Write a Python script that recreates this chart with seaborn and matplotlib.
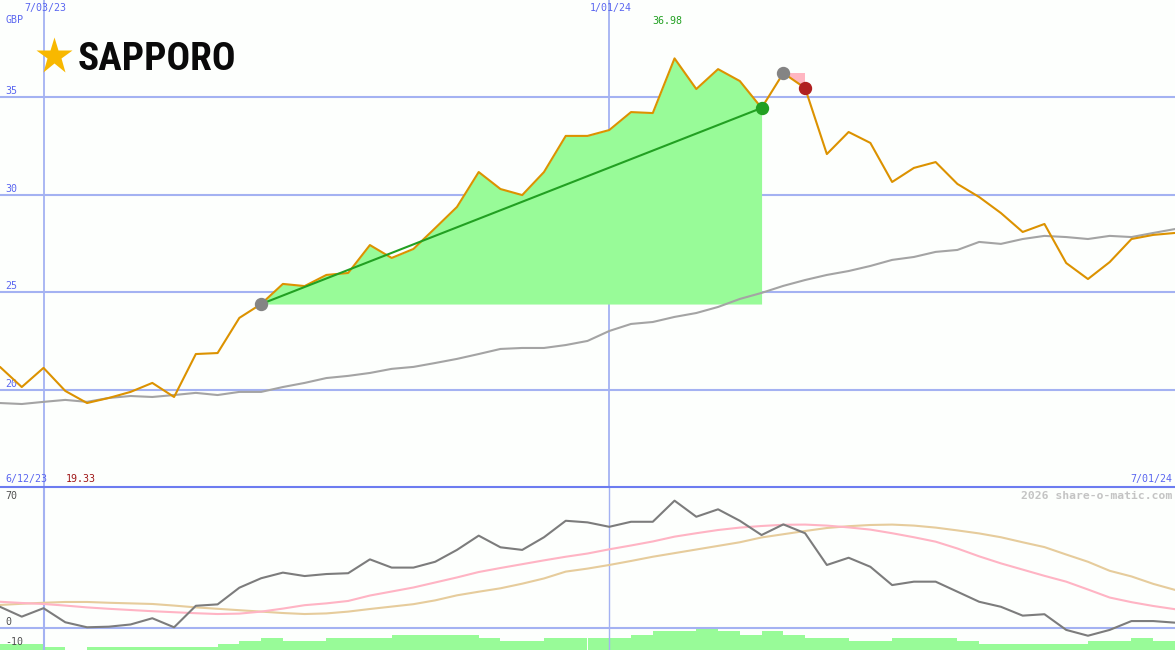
import matplotlib
matplotlib.use('Agg')
import matplotlib.pyplot as plt
from matplotlib import font_manager as fm
from matplotlib.lines import Line2D
import numpy as np
import pandas as pd
import seaborn as sns

# weekly closes, GBP
price = [21.18, 20.15, 21.13, 19.95, 19.33, 19.59, 19.90, 20.36, 19.64, 21.84,
         21.89, 23.69, 24.40, 25.43, 25.32, 25.89, 25.99, 27.42, 26.76, 27.22,
         28.29, 29.37, 31.16, 30.29, 29.98, 31.16, 33.01, 33.01, 33.31, 34.23,
         34.18, 36.98, 35.41, 36.43, 35.82, 34.44, 36.23, 35.46, 32.08, 33.21,
         32.65, 30.65, 31.37, 31.67, 30.55, 29.88, 29.06, 28.09, 28.50, 26.50,
         25.68, 26.55, 27.73, 27.94, 28.04]
avg_line = [19.33, 19.28, 19.39, 19.49, 19.39, 19.59, 19.69, 19.64, 19.74, 19.85,
            19.74, 19.90, 19.90, 20.15, 20.36, 20.61, 20.72, 20.87, 21.08, 21.18,
            21.38, 21.59, 21.84, 22.10, 22.15, 22.15, 22.30, 22.51, 23.02, 23.38,
            23.48, 23.74, 23.94, 24.25, 24.66, 24.97, 25.33, 25.63, 25.89, 26.09,
            26.35, 26.66, 26.81, 27.07, 27.17, 27.58, 27.48, 27.73, 27.89, 27.83,
            27.73, 27.89, 27.83, 28.04, 28.24]
osc = [10.4, 5.5, 9.7, 2.7, 0.2, 0.5, 1.6, 4.7, 0.2, 10.9,
       11.6, 19.9, 24.6, 27.4, 25.7, 26.7, 27.1, 34.0, 29.9, 29.9,
       32.8, 38.7, 45.8, 40.0, 38.7, 45.0, 53.2, 52.4, 50.2, 52.7,
       52.7, 63.2, 55.2, 58.9, 53.2, 46.1, 51.4, 47.0, 31.2, 34.8,
       30.3, 21.2, 22.9, 22.9, 17.9, 12.9, 10.4, 6.0, 6.7, -1.1,
       -4.0, -1.1, 3.3, 3.3, 2.5]
osc_fast = [12.9, 12.3, 11.8, 11.0, 10.1, 9.4, 8.8, 8.2, 7.7, 7.2,
            6.8, 7.0, 8.0, 9.5, 11.2, 12.1, 13.3, 16.0, 18.0, 20.0,
            22.5, 25.0, 27.7, 29.7, 31.6, 33.5, 35.3, 36.9, 39.0, 40.9,
            42.9, 45.3, 47.0, 48.6, 49.8, 50.6, 51.2, 51.3, 50.8, 49.9,
            48.8, 47.0, 45.0, 42.8, 39.4, 35.5, 32.0, 28.9, 25.8, 22.9,
            19.0, 15.0, 12.7, 10.8, 9.2]
osc_slow = [11.3, 11.9, 12.4, 12.8, 12.8, 12.4, 12.1, 11.8, 11.0, 10.1,
            9.4, 8.7, 8.0, 7.3, 6.8, 7.1, 8.0, 9.3, 10.5, 11.7,
            13.6, 16.1, 17.9, 19.6, 21.9, 24.5, 27.9, 29.4, 31.2, 33.2,
            35.3, 37.1, 38.9, 40.7, 42.5, 44.9, 46.5, 48.1, 49.6, 50.5,
            51.1, 51.3, 50.8, 49.8, 48.4, 46.9, 45.0, 42.5, 40.1, 36.4,
            32.8, 28.3, 25.5, 21.8, 18.8]
volume = [6, 6, 3.3, 0, 3.3, 3.3, 3.3, 3.3, 3.3, 3.3,
          6, 9, 12.3, 9, 9, 12.3, 12.3, 12.3, 15, 15,
          15, 15, 12.3, 9, 9, 12.3, 12.3, 12.3, 12.3, 15,
          19, 19, 22, 19, 15, 19, 15, 12.3, 12.3, 9,
          9, 12.3, 12.3, 12.3, 9, 6, 6, 6, 6, 6,
          9, 9, 12.3, 9, 9]

dates = pd.date_range('2023-06-19', periods=len(price), freq='7D')
grid_dates = ['2023-07-03', '2024-01-01']
grid_labels = ['7/03/23', '1/01/24']
price_levels = [20, 25, 30, 35]

trend_start, trend_end = 12, 35      # green run
top_idx, drop_idx = 36, 37           # top + first drop

BG = '#fdfffd'
GRID = '#a4b2f2'
BLUE_TXT = '#5a66f0'

sns.set_style('white', {'axes.facecolor': BG, 'figure.facecolor': BG})
plt.rcParams['font.family'] = ['DejaVu Sans Mono', 'DejaVu Sans']

# narrow heavy face for the logo if there is one
installed = {f.name for f in fm.fontManager.ttflist}
if 'Roboto Condensed' in installed:
    logo_font, logo_size = ['Roboto Condensed'], 28.3
elif 'Liberation Sans Narrow' in installed:
    logo_font, logo_size = ['Liberation Sans Narrow'], 27
else:
    logo_font, logo_size = ['Roboto', 'DejaVu Sans'], 25

df = pd.DataFrame({'date': dates, 'price': price, 'avg': avg_line,
                   'osc': osc, 'fast': osc_fast, 'slow': osc_slow,
                   'vol': volume})

fig = plt.figure(figsize=(11.75, 6.5), dpi=100)
ax = fig.add_axes([0, 163/650, 1, 487/650])
axb = fig.add_axes([0, 0, 1, 163/650])
axv = axb.twinx()

# ---- price panel
for lv in price_levels:
    ax.axhline(lv, color=GRID, lw=1.5, zorder=1)
    ax.annotate(str(lv), xy=(0, lv), xycoords=('axes fraction', 'data'),
                xytext=(5, 1), textcoords='offset pixels', va='bottom',
                ha='left', color=BLUE_TXT, fontsize=7.2)
for d, lab in zip(grid_dates, grid_labels):
    ax.axvline(pd.Timestamp(d), color=GRID, lw=1.3, zorder=1)
    ax.annotate(lab, xy=(pd.Timestamp(d), 1), xycoords=('data', 'axes fraction'),
                xytext=(2, -8), textcoords='offset pixels', va='center',
                ha='center', color=BLUE_TXT, fontsize=7.2)

seg = df.iloc[trend_start:trend_end + 1]
ax.fill_between(seg['date'], seg['price'], price[trend_start],
                color='#98fb98', lw=0, zorder=2)
sns.lineplot(data=df, x='date', y='avg', ax=ax, color='#a4a4a4', lw=1.5, zorder=3)
ax.fill([dates[top_idx], dates[drop_idx], dates[drop_idx]],
        [price[top_idx], price[top_idx], price[drop_idx]],
        color='#ffb6c1', lw=0, zorder=3.5)
sns.lineplot(data=df, x='date', y='price', ax=ax, color='#dc9200', lw=1.5, zorder=4)
ax.plot([dates[trend_start], dates[trend_end]],
        [price[trend_start], price[trend_end]], color='#22a022', lw=1.5, zorder=5)
ax.plot([dates[trend_start], dates[top_idx]], [price[trend_start], price[top_idx]],
        ls='none', marker='o', ms=8.6, color='#848484', zorder=6)
ax.plot(dates[trend_end], price[trend_end], marker='o', ms=8.6, color='#22a022', zorder=6)
ax.plot(dates[drop_idx], price[drop_idx], marker='o', ms=8.6, color='#b02020', zorder=6)

imax = int(np.argmax(price))
imin = int(np.argmin(price))
ax.annotate('%.2f' % price[imax], xy=(dates[imax], 1), xycoords=('data', 'axes fraction'),
            xytext=(-7, -21), textcoords='offset pixels', ha='center', va='center',
            color='#22a022', fontsize=7.2)
ax.text(5/1175, 1 - 20/487, 'GBP', transform=ax.transAxes, ha='left', va='center',
        color=BLUE_TXT, fontsize=7.2)
ax.text(5/1175, 8/487, '6/12/23', transform=ax.transAxes, ha='left', va='center',
        color=BLUE_TXT, fontsize=7.2)
ax.text(66/1175, 8/487, '%.2f' % price[imin], transform=ax.transAxes, ha='left',
        va='center', color='#a01818', fontsize=7.2)
ax.text(1172/1175, 8/487, '7/01/24', transform=ax.transAxes, ha='right',
        va='center', color=BLUE_TXT, fontsize=7.2)

# logo
ax.plot([53.5/1175], [1 - 55.5/487], transform=ax.transAxes, marker='*',
        ms=28, color='#f8b800', mec='none', zorder=7)
ax.text(78/1175, 1 - 70/487, 'SAPPORO', transform=ax.transAxes, ha='left',
        va='baseline', fontsize=logo_size, fontweight='bold', color='#0a0a0a',
        family=logo_font, zorder=7)

ax.set_xlim(dates[0], dates[-1])
ax.set_ylim(15.03, 39.97)

# ---- oscillator panel
axb.axhline(0, color=GRID, lw=1.5, zorder=1)
axb.axvline(pd.Timestamp(grid_dates[0]), color=GRID, lw=1.5, zorder=1)
axb.axvline(pd.Timestamp(grid_dates[1]), color=GRID, lw=1.0, zorder=1)
sns.lineplot(data=df, x='date', y='slow', ax=axb, color='#e6cc9c', lw=1.5, zorder=3)
sns.lineplot(data=df, x='date', y='fast', ax=axb, color='#ffb4c4', lw=1.5, zorder=3)
sns.lineplot(data=df, x='date', y='osc', ax=axb, color='#7c7c7c', lw=1.5, zorder=4)
axb.set_xlim(dates[0], dates[-1])
axb.set_ylim(-11.1, 70)

axv.bar(df['date'], df['vol'], width=7, align='edge', color='#98fb98', lw=0)
axv.set_ylim(0, 163)
axv.set_zorder(axb.get_zorder() - 1)
axv.set_facecolor(BG)
axb.patch.set_visible(False)

for lab, yv in [('70', 1 - 9/163), ('0', 1 - 135/163), ('-10', 1 - 155/163)]:
    axb.text(5/1175, yv, lab, transform=axb.transAxes, ha='left', va='center',
             color='#505050', fontsize=7.2, zorder=8)
axb.text(1172/1175, 1 - 9/163, '2026 share-o-matic.com', transform=axb.transAxes,
         ha='right', va='center', color='#c4c4c4', fontsize=8.2, fontweight='bold',
         zorder=8)

for a in (ax, axb, axv):
    a.set_xticks([])
    a.set_yticks([])
    a.set_xlabel('')
    a.set_ylabel('')
    for s in a.spines.values():
        s.set_visible(False)

fig.add_artist(Line2D([0, 1], [163/650, 163/650], transform=fig.transFigure,
                      color='#6c7cf0', lw=1.5))

fig.savefig('out.png', dpi=100, facecolor=BG)
